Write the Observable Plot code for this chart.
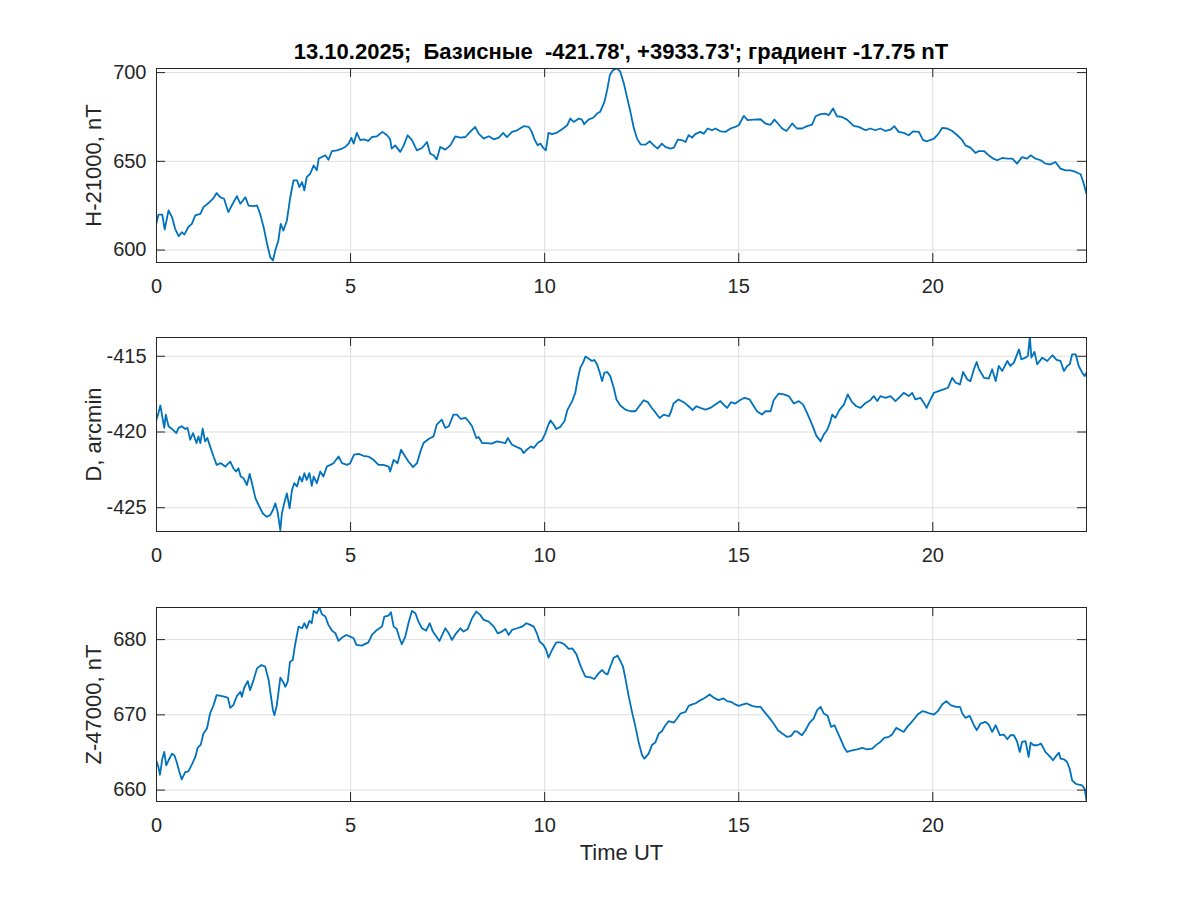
<!DOCTYPE html>
<html><head><meta charset="utf-8">
<script src="https://cdn.jsdelivr.net/npm/d3@7"></script>
<script src="https://cdn.jsdelivr.net/npm/@observablehq/plot@0.6"></script>
<style>
body{margin:0;background:#fff;}
#fig{position:relative;width:1200px;height:900px;background:#fff;font-family:"Liberation Sans",Arial,sans-serif;overflow:hidden;}
#title{position:absolute;left:156px;width:930px;top:41px;text-align:center;font-weight:bold;font-size:22px;line-height:22px;white-space:pre;color:#000;}
.panel{position:absolute;left:0;}
</style></head><body>
<div id="fig"><div id="title"></div></div>
<script>
const titleText = "13.10.2025;  Базисные  -421.78', +3933.73'; градиент -17.75 nT";
const xTicks = [0, 5, 10, 15, 20];
const xDomain = [0, 23.96];

// H component (nT, minus 21000)
const H_hours = [0,0.05,0.15,0.21,0.31,0.40,0.48,0.57,0.65,0.72,0.82,0.91,1.0,1.13,1.21,1.34,1.47,1.55,1.64,1.74,1.85,1.94,2.07,2.16,2.29,2.37,2.5,2.59,2.67,2.76,2.84,2.93,3.0,3.06,3.14,3.2,3.27,3.36,3.44,3.53,3.62,3.68,3.75,3.81,3.87,3.96,4.05,4.13,4.18,4.26,4.35,4.43,4.52,4.65,4.78,4.86,4.95,5.02,5.08,5.16,5.25,5.34,5.46,5.55,5.68,5.82,5.94,6.02,6.06,6.15,6.28,6.37,6.47,6.58,6.71,6.84,6.97,7.05,7.14,7.22,7.31,7.44,7.57,7.7,
7.83,7.96,8.08,8.21,8.30,8.43,8.56,8.69,8.82,8.93,9.03,9.16,9.29,9.46,9.59,9.67,9.73,9.82,9.89,9.96,10.03,10.1,10.19,10.32,10.45,10.58,10.66,10.75,10.88,10.96,11.02,11.13,11.26,11.35,11.43,11.54,11.61,11.68,11.76,11.86,11.95,12.04,12.12,12.21,12.29,12.38,12.47,12.6,12.71,12.81,12.91,13.02,13.11,13.24,13.33,13.43,13.54,13.63,13.71,13.8,13.88,14.01,14.1,14.2,14.31,14.4,14.53,14.66,14.79,14.91,15.0,15.13,15.23,15.39,15.56,15.69,
15.82,15.92,16.01,16.12,16.23,16.38,16.5,16.63,16.76,16.89,16.98,17.11,17.23,17.32,17.43,17.53,17.66,17.79,17.96,18.09,18.27,18.39,18.52,18.65,18.78,18.91,19.01,19.12,19.25,19.38,19.49,19.64,19.75,19.85,20.03,20.15,20.24,20.37,20.5,20.63,20.76,20.84,20.97,21.1,21.19,21.32,21.44,21.56,21.66,21.79,21.92,22.05,22.17,22.3,22.43,22.52,22.65,22.78,22.9,23.03,23.16,23.29,23.42,23.55,23.68,23.81,23.89,23.96];
const H_values = [615.2,620,620,611.6,622.3,618.6,612,607.8,610,608.8,613,614.8,619.5,620.4,624.2,626.5,629.3,632.1,629.8,628.9,621.4,625.1,630.4,626.1,629.8,625.1,624.8,625.1,620.4,612.9,604.4,596,594.1,599.7,605.4,614.8,611,616.7,628.9,639.3,639.3,635.5,638.3,633.6,641.1,643,647.7,644.9,651.5,652.4,653.4,650.9,655.8,656.2,657.2,658.1,660,663.2,660,666,661.9,662.4,661.5,663.7,664.1,666.6,664.7,662.4,657.2,659,655.3,659,664.7,661.9,656.2,657.5,660.9,654.3,653.4,651.1,658.1,656.6,659,664.1,
663.4,663.7,666.6,669.4,665.6,662.8,664.1,662.4,663.4,666,663.7,666.6,667.5,669.8,669.4,666.6,662.8,659,660,657.7,656.2,666,665.3,666.2,668.1,670.3,674.1,672.2,674.1,673.5,670.9,673.5,674.7,676.9,677.9,683.5,690.1,698.6,701.4,702.4,700.5,693.9,686.3,677.9,669.4,662.8,659.6,659.4,661.3,659,657.2,660,658.1,657.2,657.7,662.2,661.9,660.9,664.7,663.4,665.3,666.6,665.6,668.5,667.5,668.5,666.9,666.6,668.5,669.4,670.3,675.6,673.2,673.5,673.7,671.3,
670.6,673.5,671.3,668.5,667.1,671.3,668.5,668.5,669.8,670.7,675.4,676.6,676.9,676,679.8,675.4,675,673.5,670,669.4,667.5,668.5,667.5,668.5,667.1,667.8,669.8,666.6,666,664.7,666.9,666.6,661.9,661.3,662.8,665.6,668.8,668.5,667.1,664.7,661.9,659,657.7,654.7,655.8,655.8,653.4,651.5,650.6,651.9,651.5,651.5,648.7,652.4,651.5,653.4,651.5,650.6,648.7,648.3,649.6,645.9,644.9,644.9,644,642.7,637.4,631.7];
const H_ticks = [600, 650, 700];

// D component (arcmin)
const D_hours = [0,0.05,0.1,0.15,0.2,0.24,0.31,0.4,0.51,0.57,0.65,0.74,0.8,0.87,0.94,1.03,1.08,1.13,1.19,1.25,1.31,1.38,1.47,1.55,1.66,1.77,1.9,1.98,2.05,2.11,2.17,2.24,2.33,2.4,2.46,2.55,2.63,2.74,2.84,2.93,3.0,3.06,3.12,3.19,3.23,3.29,3.36,3.43,3.49,3.55,3.62,3.69,3.75,3.81,3.87,3.94,4.0,4.05,4.13,4.22,4.3,4.39,4.48,4.56,4.69,4.78,4.91,4.99,5.09,5.21,5.33,5.46,5.59,5.72,5.85,5.98,6.02,6.11,6.21,6.3,6.38,6.49,6.61,6.71,6.8,6.88,7.01,7.14,7.22,7.35,7.44,7.53,7.65,7.74,7.84,
7.96,8.04,8.13,8.24,8.3,8.39,8.51,8.64,8.77,8.9,8.99,9.05,9.16,9.29,9.39,9.46,9.54,9.65,9.72,9.82,9.93,10.02,10.08,10.15,10.23,10.3,10.4,10.51,10.59,10.71,10.79,10.85,10.92,10.99,11.05,11.13,11.22,11.28,11.35,11.42,11.48,11.54,11.61,11.69,11.78,11.85,11.95,12.08,12.21,12.34,12.45,12.55,12.66,12.77,12.85,12.96,13.07,13.2,13.26,13.32,13.45,13.58,13.71,13.81,13.91,14.01,14.14,14.27,14.4,14.53,14.61,14.7,14.8,14.91,15.03,15.15,15.28,15.39,15.47,15.6,15.69,
15.82,15.9,16.03,16.16,16.29,16.42,16.55,16.66,16.76,16.89,17.0,17.11,17.19,17.28,17.35,17.41,17.49,17.6,17.71,17.81,17.92,18.03,18.14,18.27,18.39,18.48,18.57,18.65,18.78,18.91,19.04,19.17,19.25,19.38,19.47,19.55,19.68,19.77,19.84,19.92,20.03,20.15,20.28,20.39,20.5,20.59,20.7,20.78,20.89,20.97,21.06,21.13,21.19,21.32,21.44,21.53,21.62,21.7,21.79,21.92,22.0,22.09,22.22,22.28,22.39,22.45,22.5,22.54,22.62,22.69,22.82,22.95,23.08,23.19,23.29,23.38,23.46,23.53,23.59,23.68,23.76,23.85,23.91,23.96];
const D_values = [-419.18,-418.74,-418.25,-419.0,-419.73,-418.85,-419.62,-419.8,-420.07,-419.73,-419.62,-419.8,-419.73,-420.51,-420.07,-420.73,-420.29,-420.73,-419.78,-420.62,-420.4,-420.95,-421.62,-422.17,-422.06,-422.28,-421.95,-422.39,-422.61,-422.39,-422.94,-423.05,-423.5,-422.77,-423.38,-424.38,-424.82,-425.38,-425.6,-425.49,-425.15,-424.71,-425.27,-426.48,-425.38,-424.71,-424.05,-425.04,-423.83,-423.38,-423.6,-422.94,-423.27,-422.72,-423.16,-422.72,-423.56,-422.94,-423.38,-422.61,-422.94,-422.28,-422.17,-422.06,-421.62,-422.06,-422.17,-422.06,-421.5,-421.44,-421.57,-421.62,-421.84,-422.17,-422.17,-422.28,-422.61,-421.84,-422.06,-421.17,-421.5,-421.95,-422.32,-422.06,-421.28,-420.73,-420.46,-420.29,-419.51,-419.18,-419.73,-419.62,-418.85,-418.85,-419.14,
-419.07,-419.29,-419.62,-420.4,-420.33,-420.73,-420.73,-420.77,-420.62,-420.69,-420.73,-420.4,-420.84,-421.0,-421.11,-421.39,-421.17,-420.95,-421.06,-420.73,-420.55,-420.07,-419.62,-419.23,-419.51,-419.8,-419.67,-419.29,-418.52,-417.96,-417.41,-416.53,-415.75,-415.42,-415.02,-415.15,-415.31,-415.24,-415.53,-416.08,-416.64,-416.08,-416.04,-416.31,-417.08,-417.85,-418.25,-418.52,-418.63,-418.63,-418.25,-417.9,-418.03,-418.45,-418.69,-419.07,-418.85,-418.96,-418.63,-418.12,-417.85,-418.03,-418.3,-418.56,-418.3,-418.41,-418.52,-418.41,-418.19,-417.96,-418.19,-418.41,-418.03,-418.12,-417.9,-417.74,-417.85,-418.3,-418.63,-418.85,-418.63,
-418.63,-417.9,-417.46,-417.52,-417.63,-418.12,-417.96,-418.19,-418.74,-419.51,-420.24,-420.62,-420.18,-419.85,-419.4,-418.85,-419.07,-418.52,-418.19,-417.52,-418.03,-418.3,-418.41,-418.08,-417.9,-417.63,-417.96,-417.63,-417.74,-417.63,-417.96,-417.63,-417.41,-417.63,-417.41,-417.85,-417.74,-418.08,-418.41,-417.96,-417.41,-417.3,-417.19,-417.08,-416.42,-416.75,-416.86,-416.04,-416.53,-416.64,-415.86,-415.38,-415.86,-416.42,-416.48,-415.86,-416.64,-415.64,-415.97,-415.31,-415.64,-415.42,-414.54,-415.2,-415.09,-414.98,-413.7,-415.09,-414.71,-415.53,-415.09,-415.31,-414.93,-415.24,-415.31,-415.97,-415.64,-415.53,-414.87,-414.87,-415.64,-416.08,-416.31,-416.08];
const D_ticks = [-425, -420, -415];

// Z component (nT, minus 47000)
const Z_hours = [0,0.05,0.09,0.15,0.2,0.25,0.31,0.4,0.46,0.52,0.59,0.65,0.74,0.82,0.91,1.0,1.06,1.14,1.21,1.3,1.38,1.47,1.55,1.66,1.77,1.84,1.9,1.98,2.07,2.16,2.2,2.26,2.35,2.41,2.5,2.59,2.7,2.8,2.89,2.95,3.0,3.04,3.1,3.19,3.26,3.32,3.38,3.44,3.51,3.57,3.66,3.75,3.81,3.87,3.94,4.0,4.05,4.13,4.2,4.26,4.35,4.43,4.52,4.61,4.69,4.78,4.89,4.99,5.08,5.15,5.29,5.46,5.55,5.68,5.81,5.87,5.98,6.04,6.11,6.19,6.26,6.32,6.41,6.49,6.58,6.67,6.75,6.84,6.95,7.04,7.12,7.21,7.29,7.44,7.53,7.61,7.72,
7.83,7.91,8.02,8.13,8.24,8.34,8.43,8.56,8.69,8.79,8.9,8.99,9.07,9.16,9.29,9.42,9.53,9.63,9.72,9.8,9.87,9.97,10.04,10.1,10.19,10.3,10.4,10.51,10.62,10.71,10.82,10.9,10.99,11.05,11.18,11.28,11.39,11.48,11.56,11.62,11.69,11.78,11.88,11.95,12.02,12.08,12.16,12.25,12.34,12.42,12.51,12.57,12.68,12.77,12.85,12.94,13.02,13.11,13.2,13.33,13.41,13.5,13.63,13.71,13.8,13.88,13.97,14.1,14.17,14.25,14.36,14.48,14.61,14.7,14.8,14.91,15.0,15.11,15.21,15.34,15.46,15.56,15.66,15.77,
15.9,16.01,16.12,16.25,16.35,16.44,16.52,16.63,16.72,16.83,16.93,17.02,17.11,17.19,17.29,17.38,17.47,17.54,17.62,17.71,17.79,17.92,18.05,18.18,18.31,18.44,18.55,18.65,18.75,18.87,18.95,19.06,19.17,19.25,19.34,19.42,19.53,19.61,19.73,19.81,19.92,20.03,20.13,20.24,20.35,20.46,20.59,20.7,20.76,20.84,20.95,21.06,21.13,21.23,21.36,21.44,21.53,21.62,21.73,21.83,21.92,22.0,22.09,22.17,22.24,22.3,22.39,22.47,22.52,22.6,22.69,22.79,22.9,22.99,23.1,23.19,23.25,23.29,23.38,23.46,23.53,23.59,23.68,23.76,23.85,23.91,23.96];
const Z_values = [663.82,663.07,662.04,664.18,665.07,663.29,663.96,664.84,664.62,663.73,662.4,661.42,662.4,662.49,663.38,664.4,665.6,666.04,667.51,668.18,670.18,671.29,672.62,672.53,672.4,672.27,670.93,671.29,672.49,673.07,672.4,673.6,674.49,673.29,674.62,676.18,676.62,676.4,674.62,672.4,670.62,669.96,671.29,674.93,674.4,673.73,674.4,677.07,677.29,679.29,681.73,681.51,682.18,681.51,682.49,682.18,683.82,683.51,684.27,683.38,683.07,681.96,681.2,680.84,679.82,680.27,680.62,680.4,680.18,679.29,679.2,679.64,680.62,681.29,681.73,683.07,683.2,683.64,681.73,681.42,680.18,679.38,680.4,682.18,683.82,683.51,682.4,681.51,681.2,682.18,681.07,680.4,679.82,681.51,680.84,679.96,680.84,
681.51,681.07,681.42,682.84,683.73,683.29,682.62,682.4,681.73,680.84,681.07,681.42,680.62,681.29,681.51,681.73,682.18,681.96,681.73,680.84,679.73,679.29,678.62,677.6,678.62,679.64,679.64,679.38,678.76,678.84,678.04,676.84,675.73,675.07,674.98,674.76,675.51,675.96,675.51,675.38,676.4,677.6,677.87,677.16,676.4,674.84,672.62,670.4,668.4,666.4,664.62,664.18,664.84,666.04,666.31,667.51,667.82,668.62,669.16,668.98,669.51,670.18,670.4,671.2,671.38,671.51,671.82,672.18,672.4,672.71,672.27,671.96,672.18,671.82,671.73,671.38,671.2,671.38,671.51,671.2,671.07,671.07,670.4,669.73,
668.84,667.96,667.51,667.07,667.2,667.82,667.73,667.29,667.96,668.98,669.51,670.62,671.07,670.18,669.87,668.4,668.62,667.73,666.84,665.73,665.07,665.29,665.42,665.6,665.42,665.51,666.04,666.4,666.93,667.07,667.38,668.27,667.96,667.73,668.4,668.84,669.51,670.04,670.49,670.4,670.18,670.04,670.49,671.38,671.82,671.29,671.07,671.07,670.18,669.6,669.87,668.62,667.96,668.84,669.07,668.71,667.73,668.62,667.29,667.38,666.76,667.29,667.29,666.49,665.07,666.4,666.49,664.4,666.31,665.96,665.96,666.18,665.07,664.62,663.96,664.62,664.98,664.18,664.09,663.73,662.76,661.29,660.84,660.71,660.62,660.18,658.62];
const Z_ticks = [660, 670, 680];

const FONT = '"Liberation Sans", Arial, sans-serif';
const INK = "#262626";
const PLOT_W = 930, PLOT_H = 194, TICK_LEN = 9;
const plainNum = d => String(d);

function panel({hours, values, yDomain, yTicks, yLabel, xLabel, top, marginTop, marginBottom}) {
  const data = hours.map((h, i) => ({h, v: values[i]}));
  const marks = [
    Plot.gridX(xTicks, {stroke: "#dedede", strokeOpacity: 1}),
    Plot.gridY(yTicks, {stroke: "#dedede", strokeOpacity: 1}),
    Plot.line(data, {x: "h", y: "v", stroke: "#0072BD", strokeWidth: 1.8, clip: true}),
    Plot.tickX(xTicks, {x: d => d, insetTop: PLOT_H - TICK_LEN, stroke: INK}),
    Plot.tickX(xTicks, {x: d => d, insetBottom: PLOT_H - TICK_LEN, stroke: INK}),
    Plot.tickY(yTicks, {y: d => d, insetRight: PLOT_W - TICK_LEN, stroke: INK}),
    Plot.tickY(yTicks, {y: d => d, insetLeft: PLOT_W - TICK_LEN, stroke: INK}),
    Plot.frame({stroke: INK}),
    Plot.axisX(xTicks, {tickSize: 0, tickPadding: 16, label: null, fontSize: 20, fill: INK, tickFormat: plainNum}),
    Plot.axisY(yTicks, {tickSize: 0, tickPadding: 10, label: null, fontSize: 20, fill: INK, tickFormat: plainNum}),
    Plot.text([yLabel], {text: d => d, frameAnchor: "left", textAnchor: "middle", rotate: -90, dx: -63, fontSize: 22, fill: INK})
  ];
  if (xLabel) marks.push(Plot.text([xLabel], {text: d => d, frameAnchor: "bottom", textAnchor: "middle", dy: 58, fontSize: 22, fill: INK}));
  const svg = Plot.plot({
    width: 1200,
    height: marginTop + PLOT_H + marginBottom,
    marginLeft: 156, marginRight: 114, marginTop, marginBottom,
    style: {fontFamily: FONT, background: "transparent", color: INK, overflow: "visible"},
    x: {domain: xDomain},
    y: {domain: yDomain},
    marks
  });
  svg.classList.add("panel");
  svg.style.top = top + "px";
  svg.style.position = "absolute";
  return svg;
}

const fig = document.getElementById("fig");
document.getElementById("title").textContent = titleText;
fig.appendChild(panel({hours: H_hours, values: H_values, yDomain: [593.0, 702.3], yTicks: H_ticks, yLabel: "H-21000, nT", top: 0, marginTop: 68, marginBottom: 38}));
fig.appendChild(panel({hours: D_hours, values: D_values, yDomain: [-426.57, -413.76], yTicks: D_ticks, yLabel: "D, arcmin", top: 300, marginTop: 37, marginBottom: 38}));
fig.appendChild(panel({hours: Z_hours, values: Z_values, yDomain: [658.48, 684.27], yTicks: Z_ticks, yLabel: "Z-47000, nT", xLabel: "Time UT", top: 569, marginTop: 38, marginBottom: 99}));
</script>
</body></html>
